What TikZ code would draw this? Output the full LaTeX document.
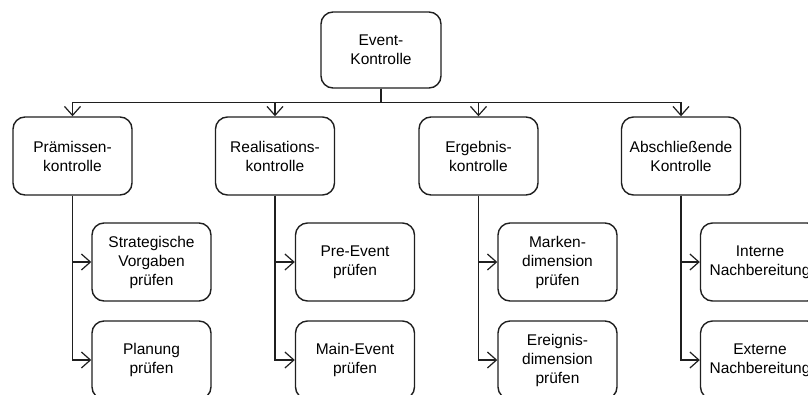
\documentclass[tikz,border=0pt]{standalone}
\usepackage{fontspec}
\setmainfont{Liberation Sans}
\usetikzlibrary{arrows.meta}
\begin{document}
\begin{tikzpicture}[x=1pt,y=-1pt,
  box/.style={draw=black!88, line width=1.4pt, rounded corners=12pt,
    minimum width=119pt, minimum height=78pt, align=center, inner sep=0pt,
    font=\fontsize{15.5}{19}\selectfont},
  arr/.style={draw=black!88, line width=1.4pt,
    -{Straight Barb[length=9pt,width=16pt,line width=1.2pt]}}]
\useasboundingbox (0,0) rectangle (808,394);
\clip (0,0) rectangle (808,394);
\node[box, minimum width=120pt, minimum height=76pt] (top) at (381,50) {Event-\\Kontrolle};
\node[box] (b1) at (72.5,156) {Prämissen-\\kontrolle};
\node[box] (b2) at (275,156) {Realisations-\\kontrolle};
\node[box] (b3) at (478.5,156) {Ergebnis-\\kontrolle};
\node[box] (b4) at (681,156) {Abschließende\\Kontrolle};
\node[box] (c11) at (151.5,262) {Strategische\\Vorgaben\\prüfen};
\node[box] (c12) at (151.5,360) {Planung\\prüfen};
\node[box] (c21) at (355,262) {Pre-Event\\prüfen};
\node[box] (c22) at (355,360) {Main-Event\\prüfen};
\node[box] (c31) at (557.5,262) {Marken-\\dimension\\prüfen};
\node[box] (c32) at (557.5,360) {Ereignis-\\dimension\\prüfen};
\node[box] (c41) at (760,262) {Interne\\Nachbereitung};
\node[box] (c42) at (760,360) {Externe\\Nachbereitung};
\foreach \b in {b1,b2,b3,b4}
  \draw[arr] (top.south) -- ++(0,14) -| (\b.north);
\foreach \b/\c in {b1/c11,b1/c12,b2/c21,b2/c22,b3/c31,b3/c32,b4/c41,b4/c42}
  \draw[arr] (\b.south) |- (\c.west);
\end{tikzpicture}
\end{document}
